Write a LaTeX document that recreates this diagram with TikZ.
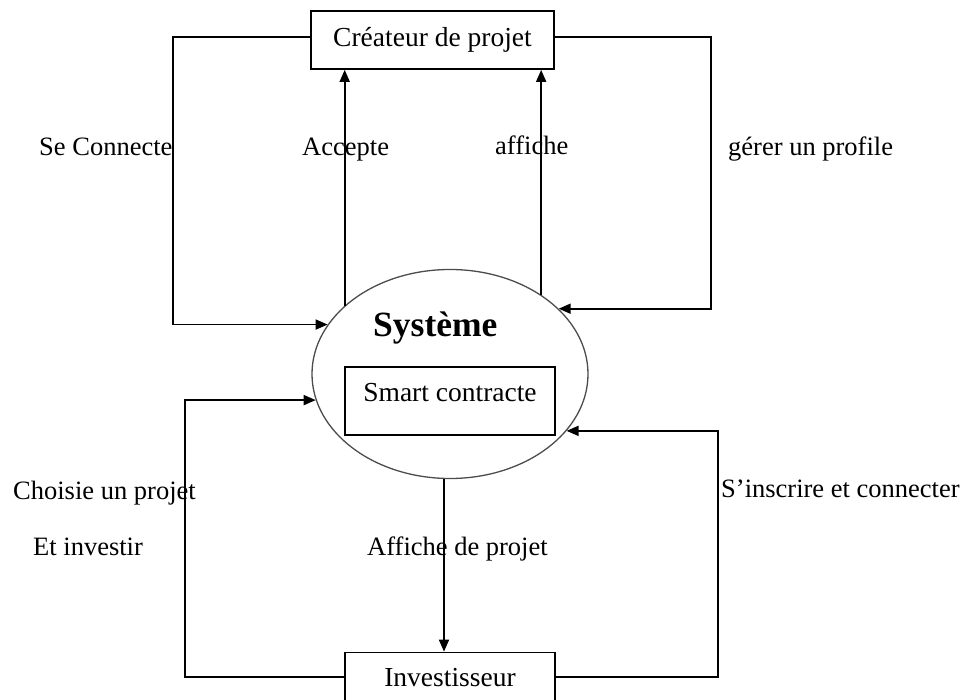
\documentclass[tikz,border=0pt]{standalone}
\usepackage{fontspec}
\setmainfont{Liberation Serif}
\usetikzlibrary{arrows.meta,shapes,positioning}

\begin{document}
\begin{tikzpicture}[x=1pt,y=-1pt,>={Triangle[length=12pt,width=10pt]},
  font=\fontsize{26.5}{30}\selectfont]

  \tikzstyle{acteur}=[rectangle,draw=black,line width=1.7pt,inner sep=0pt,
                      minimum width=210pt,font=\fontsize{27.5}{32}\selectfont]
  \tikzstyle{systeme}=[ellipse,draw=black!70,line width=1.3pt,inner sep=0pt,
                       minimum width=276pt,minimum height=209pt]
  \tikzstyle{flux}=[->,line width=1.7pt]
  \tikzstyle{etiquette}=[anchor=base west,inner sep=0pt]

  \useasboundingbox (0,0) rectangle (962,700);

  \begin{scope}
    % acteurs et systeme
    \node [systeme] (sys) at (450,374) {};
    \node [acteur,minimum width=243pt,text height=36pt,text depth=22pt]
      (crea) at (432.5,40) {Créateur de projet};
    \node [acteur,text height=35pt,text depth=33pt]
      (sc) at (450,401) {Smart contracte};
    \node [acteur,text height=34pt,text depth=15pt]
      (inv) [below=172.5pt of sys] {Investisseur};
    \node [etiquette,font=\fontsize{35.5}{40}\selectfont\bfseries]
      (titre) at (373,337) {Système};

    % colonnes des boucles
    \coordinate (g1) at (173,0);
    \coordinate (d1) at (711,0);
    \coordinate (g2) at (185,0);
    \coordinate (d2) at (718,0);

    % flux du createur
    \draw [flux] ([yshift=3pt]crea.west) -| (g1 |- sys.158) -- (sys.158);
    \draw [flux] ([yshift=3pt]crea.east) -| (d1 |- sys.31) -- (sys.31);
    \draw [flux] (sys.147) -- (sys.147 |- crea.south);
    \draw [flux] (sys.41) -- (sys.41 |- crea.south);

    % flux de l'investisseur
    \draw [flux] ([xshift=-6pt]sys.south) -- ([xshift=-6pt]inv.north);
    \draw [flux] (inv.west) -| (g2 |- sys.191) -- (sys.191);
    \draw [flux] (inv.east) -| (d2 |- sys.334) -- (sys.334);

    % etiquettes
    \node [etiquette] (l1) at (39,156)  {Se Connecte};
    \node [etiquette] (l2) at (302,156) {Accepte};
    \node [etiquette] (l3) at (495,155) {affiche};
    \node [etiquette] (l4) at (728,156) {gérer un profile};
    \node [etiquette] (l5) at (13,500)  {Choisie un projet};
    \node [etiquette] (l6) at (33,555)  {Et investir};
    \node [etiquette] (l7) at (721,498) {S’inscrire et connecter};
    \node [etiquette] (l8) at (367,556) {Affiche de projet};
  \end{scope}
\end{tikzpicture}
\end{document}
